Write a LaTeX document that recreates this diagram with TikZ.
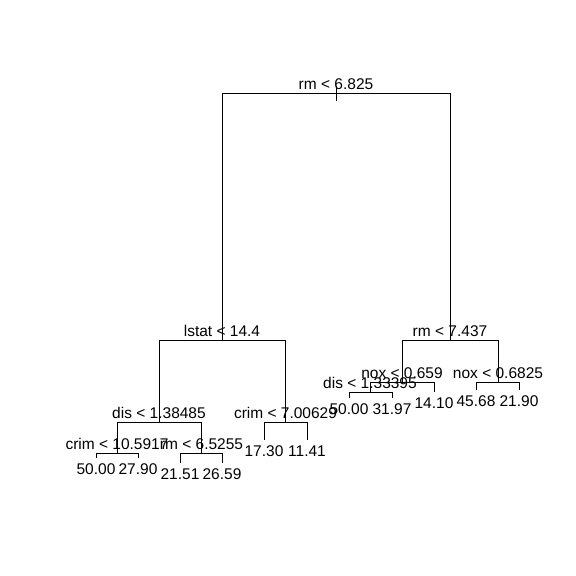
\documentclass[tikz,border=0pt]{standalone}
\usepackage{fontspec}
\setmainfont{Liberation Sans}
\begin{document}
\begin{tikzpicture}[x=1pt,y=-1pt,
  edge/.style={draw=black,line width=1pt},
  lab/.style={anchor=base,inner sep=0pt,font=\fontsize{15.5}{17}\selectfont}]
\useasboundingbox[fill=white] (0,0) rectangle (576,576);
% tree nodes (x, level of horizontal bar) and leaves (x, bottom)
\coordinate (R) at (336,93);
\coordinate (L) at (222,340);
\coordinate (Rr) at (450,340);
\coordinate (LL) at (159,422);
\coordinate (LR) at (285.5,422);
\coordinate (RL) at (402,382);
\coordinate (RR) at (498,382);
\coordinate (LLL) at (117,453);
\coordinate (LLR) at (201.5,453);
\coordinate (RLL) at (370,392);
% leaves
\coordinate (l1) at (96,458);
\coordinate (l2) at (138,458);
\coordinate (l3) at (180,463);
\coordinate (l4) at (222,463);
\coordinate (l5) at (264,440);
\coordinate (l6) at (307,440);
\coordinate (l7) at (349,398);
\coordinate (l8) at (392,398);
\coordinate (l9) at (434,392);
\coordinate (l10) at (476,390);
\coordinate (l11) at (519,390);
% root stub
\coordinate (Rtop) at (336,86);
\coordinate (Rbot) at (336,101);
\draw[edge] (Rtop) -- (Rbot);
% branches
\draw[edge] (L) -- (L |- R) -- (Rr |- R) -- (Rr);
\draw[edge] (LL) -- (LL |- L) -- (LR |- L) -- (LR);
\draw[edge] (RL) -- (RL |- Rr) -- (RR |- Rr) -- (RR);
\draw[edge] (LLL) -- (LLL |- LL) -- (LLR |- LL) -- (LLR);
\draw[edge] (l5) -- (l5 |- LR) -- (l6 |- LR) -- (l6);
\draw[edge] (RLL) -- (RLL |- RL) -- (l9 |- RL) -- (l9);
\draw[edge] (l10) -- (l10 |- RR) -- (l11 |- RR) -- (l11);
\draw[edge] (l1) -- (l1 |- LLL) -- (l2 |- LLL) -- (l2);
\draw[edge] (l3) -- (l3 |- LLR) -- (l4 |- LLR) -- (l4);
\draw[edge] (l7) -- (l7 |- RLL) -- (l8 |- RLL) -- (l8);
% split labels
\node[lab] (tR) at ([yshift=3.5]R) {rm < 6.825};
\node[lab] (tL) at ([yshift=3.5]L) {lstat < 14.4};
\node[lab] (tRr) at ([yshift=3.5]Rr) {rm < 7.437};
\node[lab] (tLL) at ([yshift=3.5]LL) {dis < 1.38485};
\node[lab] (tLR) at ([yshift=3.5]LR) {crim < 7.00629};
\node[lab] (tRL) at ([yshift=3.5]RL) {nox < 0.659};
\node[lab] (tRR) at ([yshift=3.5]RR) {nox < 0.6825};
\node[lab] (tLLL) at ([yshift=3.5]LLL) {crim < 10.5917};
\node[lab] (tLLR) at ([yshift=3.5]LLR) {rm < 6.5255};
\node[lab] (tRLL) at ([yshift=3.5]RLL) {dis < 1.33395};
% leaf labels
\node[lab] (v1) at ([yshift=-16]l1) {50.00};
\node[lab] (v2) at ([yshift=-16]l2) {27.90};
\node[lab] (v3) at ([yshift=-16]l3) {21.51};
\node[lab] (v4) at ([yshift=-16]l4) {26.59};
\node[lab] (v5) at ([yshift=-16]l5) {17.30};
\node[lab] (v6) at ([yshift=-16]l6) {11.41};
\node[lab] (v7) at ([yshift=-16]l7) {50.00};
\node[lab] (v8) at ([yshift=-16]l8) {31.97};
\node[lab] (v9) at ([yshift=-16]l9) {14.10};
\node[lab] (v10) at ([yshift=-16]l10) {45.68};
\node[lab] (v11) at ([yshift=-16]l11) {21.90};
\end{tikzpicture}
\end{document}
